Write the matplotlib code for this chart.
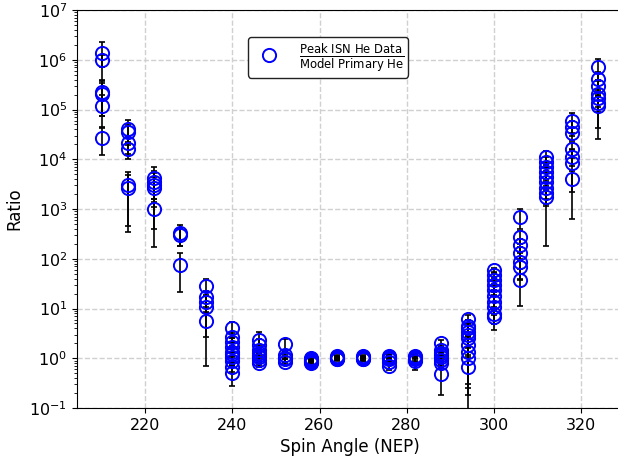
import matplotlib.pyplot as plt

plt.rcParams['mathtext.fontset'] = 'dejavusans'

# spin angle bins (NEP, deg)
spin_angles = [210, 216, 222, 228, 234, 240, 246, 252, 258, 264,
               270, 276, 282, 288, 294, 300, 306, 312, 318, 324]

# data / model ratio for each bin (several orbits per bin)
ratios = [
    [1.35e6, 9.9e5, 2.24e5, 2.05e5, 1.2e5, 2.7e4],
    [4.06e4, 3.5e4, 2.1e4, 1.6e4, 3.0e3, 2.6e3],
    [4.25e3, 3.5e3, 2.97e3, 2.7e3, 1.0e3],
    [324, 300, 76],
    [28.3, 16.8, 13.3, 10.9, 5.7],
    [4.0, 2.67, 2.15, 1.71, 1.35, 1.2, 1.07, 0.9, 0.68, 0.5],
    [2.33, 1.85, 1.47, 1.3, 1.16, 1.05, 0.92, 0.79],
    [1.93, 1.16, 1.0, 0.95, 0.85],
    [1.0, 0.97, 0.92, 0.87, 0.85, 0.82],
    [1.1, 1.05, 1.0, 0.98, 0.95],
    [1.1, 1.05, 1.0, 0.97, 0.95],
    [1.1, 1.05, 1.0, 0.95, 0.85, 0.7],
    [1.1, 1.05, 1.0, 0.95, 0.9],
    [2.0, 1.46, 1.3, 1.16, 1.05, 0.92, 0.79, 0.48],
    [6.07, 4.44, 4.0, 3.4, 2.9, 2.5, 1.85, 1.35, 1.0, 0.68],
    [59, 47, 37, 30, 23.5, 17.8, 13.7, 10.5, 7.9, 6.6],
    [700, 274, 189, 129, 87, 69, 37],
    [1.12e4, 8.9e3, 7.1e3, 5.6e3, 4.5e3, 3.55e3, 2.6e3, 2.07e3, 1.77e3],
    [5.9e4, 4.5e4, 3.3e4, 1.58e4, 1.12e4, 8.3e3, 3.95e3],
    [7.2e5, 4.1e5, 2.9e5, 2.07e5, 1.72e5, 1.38e5, 1.16e5],
]

ratio_errs = [
    [9.5e5, 2.7e5, 1.5e5, 1.3e5, 7.5e4, 1.5e4],
    [2.1e4, 1.4e4, 8e3, 6e3, 2.65e3, 2.15e3],
    [2.85e3, 1.9e3, 2.8e3, 1.6e3, 6e2],
    [146, 120, 55],
    [10.3, 6, 5, 10.2, 3],
    [1.4, 0.5, 0.4, 0.35, 0.3, 0.3, 0.25, 0.2, 0.15, 0.22],
    [1.0, 0.6, 0.4, 0.3, 0.3, 0.25, 0.2, 0.11],
    [0.55, 0.2, 0.15, 0.12, 0.1],
    [0.08, 0.08, 0.08, 0.08, 0.08, 0.08],
    [0.07, 0.07, 0.07, 0.07, 0.07],
    [0.07, 0.07, 0.07, 0.07, 0.07],
    [0.1, 0.1, 0.1, 0.1, 0.1, 0.12],
    [0.1, 0.1, 0.1, 0.1, 0.33],
    [0.3, 0.3, 0.25, 0.2, 0.2, 0.2, 0.15, 0.3],
    [1.3, 1.5, 1.2, 1.0, 3.0, 0.9, 0.8, 1.1, 0.7, 0.5],
    [7, 8, 6, 6, 5, 4, 4, 3, 3, 2.9],
    [300, 80, 60, 40, 50, 30, 26],
    [3.6e3, 2e3, 1.8e3, 1.5e3, 1.2e3, 3.37e3, 1e3, 8e2, 6e2],
    [2.5e4, 1.5e4, 1e4, 5e3, 4e3, 7.67e3, 1.75e3],
    [3.3e5, 1.5e5, 1e5, 1.64e5, 6e4, 5e4, 9e4],
]

# flatten into point lists
xs, ys, es = [], [], []
for ang, vals, errs in zip(spin_angles, ratios, ratio_errs):
    for v, e in zip(vals, errs):
        xs.append(ang)
        ys.append(v)
        es.append(e)

fig = plt.figure(figsize=(6.18, 4.59), dpi=100)
# axes run slightly past the right edge (as in the original crop)
ax = fig.add_axes([77 / 618, 51 / 459, 546 / 618, 398 / 459])

ax.errorbar(xs, ys, yerr=es, fmt='none', ecolor='black', elinewidth=1.2,
            capsize=2, capthick=1.2, zorder=2)
ax.plot(xs, ys, 'o', mfc='none', mec='blue', ms=9.5, mew=1.4, zorder=3,
        label=r'$\frac{\mathrm{Peak\ ISN\ He\ Data}}{\mathrm{Model\ Primary\ He}}$')

ax.set_yscale('log')
ax.set_ylim(1e-1, 1e7)
ax.set_xlim(204.3, 329.7)
ax.set_xticks([220, 240, 260, 280, 300, 320])

ax.grid(True, which='major', linestyle='--', color='#d0d0d0', linewidth=1)
ax.set_axisbelow(True)

ax.set_xlabel('Spin Angle (NEP)', fontsize=12)
ax.set_ylabel('Ratio', fontsize=12)
ax.tick_params(axis='both', which='major', labelsize=11.5)

leg = ax.legend(loc='upper left', bbox_to_anchor=(0.313, 0.932), fontsize=12,
                frameon=True, framealpha=1, edgecolor='#222222', fancybox=True,
                borderpad=0.25, borderaxespad=0)
leg.get_frame().set_linewidth(1.0)

fig.savefig('out.png', dpi=100)
